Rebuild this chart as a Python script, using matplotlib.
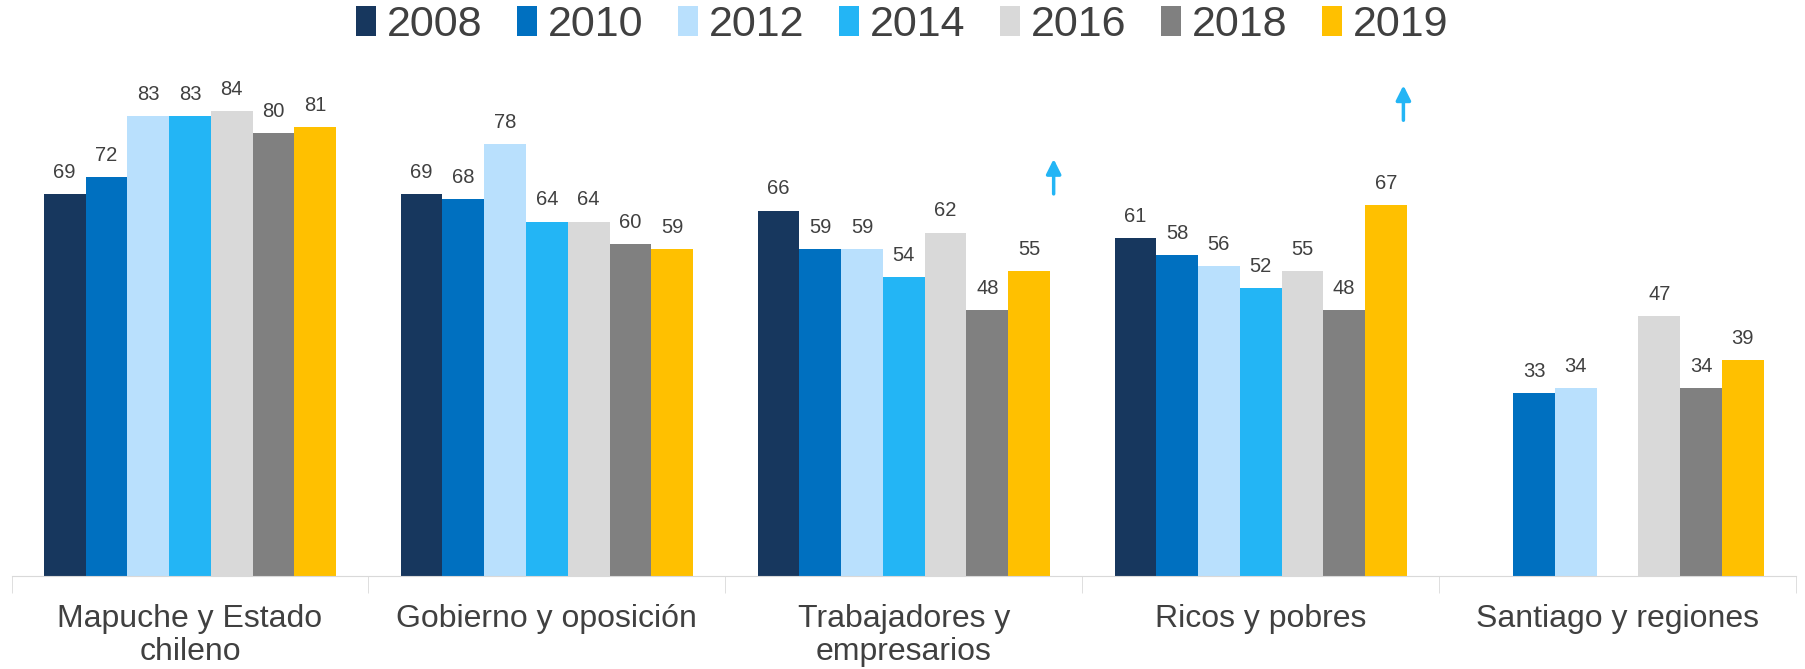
import numpy as np
import matplotlib
matplotlib.use("Agg")
from matplotlib import pyplot as plt

plt.rcParams['font.family'] = ['Liberation Sans', 'DejaVu Sans']

# Data
categories = ['Mapuche y Estado\nchileno', 'Gobierno y oposición', 'Trabajadores y\nempresarios',
              'Ricos y pobres', 'Santiago y regiones']
years = ['2008', '2010', '2012', '2014', '2016', '2018', '2019']
values = {
    '2008': [69, 69, 66, 61, np.nan],
    '2010': [72, 68, 59, 58, 33],
    '2012': [83, 78, 59, 56, 34],
    '2014': [83, 64, 54, 52, np.nan],
    '2016': [84, 64, 62, 55, 47],
    '2018': [80, 60, 48, 48, 34],
    '2019': [81, 59, 55, 67, 39],
}
colors = ['#17375E', '#0070C0', '#B9E0FD', '#23B5F5', '#D9D9D9', '#808080', '#FFC000']

# arrows (group index, x offset, y start, y end)
arrows = [(2, 0.42, 69, 75.3), (3, 0.40, 82.3, 88.6)]

txt = '#404040'
fig = plt.figure(figsize=(18.05, 6.69), dpi=100)
ax = fig.add_axes([0.0064, 0.139, 0.9886, 0.745])

x = np.arange(len(categories))
w = 0.117
for i, yr in enumerate(years):
    pos = x + (i - 3) * w
    v = np.array(values[yr], dtype=float)
    ax.bar(pos, v, width=w, color=colors[i], label=yr)
    for p, val in zip(pos, v):
        if not np.isnan(val):
            ax.text(p, val + 2.2, '%d' % val, ha='center', va='bottom', fontsize=14.5, color=txt)

for g, dx, y0, y1 in arrows:
    ax.annotate('', xy=(g + dx, y1), xytext=(g + dx, y0),
                arrowprops=dict(arrowstyle='-|>', color='#23B5F5', lw=2.5, mutation_scale=22,
                                shrinkA=0, shrinkB=0))

ax.set_xlim(-0.5, len(categories) - 0.5)
ax.set_ylim(0, 90)
ax.set_yticks([])
for s in ['top', 'right', 'left']:
    ax.spines[s].set_visible(False)
ax.spines['bottom'].set_color('#D9D9D9')

# category labels and separators
ax.set_xticks(x)
ax.set_xticklabels(categories, fontsize=23, color=txt, linespacing=1.15)
ax.tick_params(axis='x', length=0, pad=20)
ax.set_xticks(np.arange(len(categories) + 1) - 0.5, minor=True)
ax.tick_params(axis='x', which='minor', length=12, color='#D9D9D9')

leg = fig.legend(loc='center', bbox_to_anchor=(0.5, 0.962), ncol=7, frameon=False,
                 fontsize=31, handlelength=0.45, handleheight=0.7, handletextpad=0.27,
                 columnspacing=0.8, labelcolor=txt)

fig.savefig('out.png', dpi=100)
